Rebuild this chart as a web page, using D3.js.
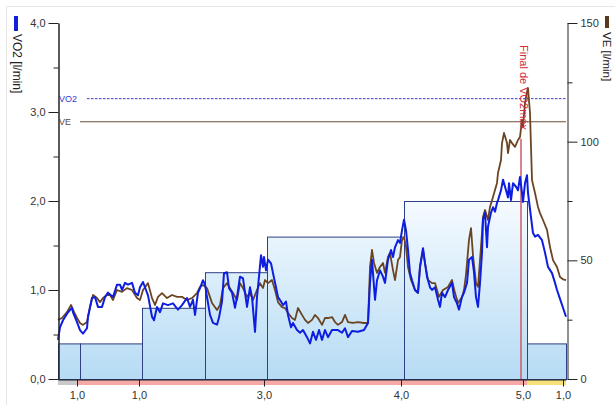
<!DOCTYPE html>
<html>
<head>
<meta charset="utf-8">
<script src="https://cdn.jsdelivr.net/npm/d3@7"></script>
<style>
  html, body { margin: 0; padding: 0; background: #fff; }
  svg { display: block; font-family: "Liberation Sans", Arial, sans-serif; }
</style>
</head>
<body>
<svg id="chart" width="615" height="405"></svg>
<script>
// Time axis (seconds from start of test)
const vo2Time = [0,2,5,10,14,15,19,22,25,29,30,34,37,40,44,47,50,55,59,62,64,67,70,74,77,80,82,85,88,90,94,96,99,102,105,110,115,120,124,129,132,135,137,140,142,145,147,149,152,155,159,161,164,166,169,171,174,177,179,182,185,187,189,192,194,197,199,201,203,205,206,208,210,213,215,218,220,223,225,228,230,233,235,239,242,245,249,252,255,258,261,264,267,270,274,277,280,284,287,290,294,300,306,310,312,314,315,317,319,322,325,327,330,333,335,337,340,342,344,346,348,350,352,354,357,360,362,365,367,369,372,374,377,380,382,384,387,390,394,396,399,401,404,406,409,411,414,416,418,420,422,424,425,427,429,430,433,435,437,439,440,443,445,448,450,451,453,455,458,460,462,464,465,467,469,470,473,475,477,480,484,487,490,494,497,499,502,505,508];
// VO2 [l/min]
const vo2 = [0.44,0.58,0.66,0.75,0.80,0.75,0.64,0.55,0.51,0.57,0.70,0.91,0.92,0.81,0.81,0.92,0.97,0.92,1.06,1.06,1.00,1.08,1.06,1.08,0.97,0.94,1.03,1.09,1.00,0.94,0.70,0.66,0.81,0.75,0.85,0.83,0.85,0.78,0.83,0.91,0.81,0.89,0.72,0.97,1.02,1.11,1.06,0.92,0.72,0.63,0.61,0.69,0.87,1.19,1.20,1.02,0.97,0.80,0.92,1.15,1.13,0.97,0.81,1.03,0.92,0.53,0.92,1.15,1.39,1.26,1.37,1.22,1.34,1.30,1.19,1.03,0.92,0.87,0.83,0.87,0.72,0.58,0.63,0.55,0.52,0.55,0.47,0.40,0.53,0.44,0.55,0.44,0.55,0.47,0.55,0.55,0.55,0.52,0.57,0.47,0.54,0.53,0.55,0.63,1.08,1.34,1.19,0.89,1.11,1.22,1.15,1.08,1.34,1.45,1.37,1.48,1.56,1.53,1.67,1.79,1.67,1.45,1.19,1.11,1.00,0.97,1.26,1.47,1.30,1.15,1.03,1.00,1.03,0.89,0.81,0.97,0.92,1.00,1.08,0.92,0.85,0.78,0.92,0.97,1.08,1.34,1.37,1.20,0.92,0.81,1.08,1.42,1.79,1.87,1.48,1.71,1.87,1.93,1.88,1.98,2.01,2.12,2.24,2.12,2.04,2.20,2.01,2.20,2.16,2.12,2.27,2.09,1.99,2.20,2.29,2.09,1.82,1.64,1.60,1.62,1.56,1.42,1.26,1.19,1.08,1.00,0.90,0.80,0.70];

const veTime = [0,4,9,13,15,19,22,25,29,32,35,39,42,45,49,52,55,59,64,69,74,79,82,85,90,94,97,100,104,109,114,119,124,129,134,139,142,145,149,154,159,162,165,169,172,175,179,182,185,189,192,195,199,202,205,207,210,214,217,220,224,227,230,234,237,240,244,247,250,254,257,260,264,267,270,274,277,280,284,287,290,295,300,306,310,312,314,316,319,322,325,327,330,332,335,337,340,342,344,346,348,350,353,357,360,362,365,367,370,374,377,381,385,390,394,397,400,404,406,408,411,413,415,418,420,422,424,425,427,430,432,435,439,440,443,444,446,449,450,452,454,457,460,462,464,465,467,469,470,472,473,474,477,480,482,485,489,492,495,499,502,505,508];
// VE [l/min]
const ve = [24.9,25.7,28.2,31.2,29.1,25.7,23.6,22.8,24.0,30.3,35.4,34.1,32.4,34.1,35.4,35.4,33.3,37.5,36.7,38.3,37.5,34.1,33.3,37.5,40.4,34.1,31.2,34.6,36.2,34.1,35.4,34.6,34.6,33.3,34.1,36.2,38.8,39.6,38.3,32.0,29.1,31.2,38.3,40.4,38.3,36.2,33.3,40.4,38.3,34.6,36.2,33.3,37.5,40.4,38.3,41.7,40.4,41.7,37.5,32.4,30.3,29.9,27.8,25.7,24.9,29.9,27.0,24.9,23.6,24.9,27.0,25.7,22.8,25.7,25.7,26.1,24.0,22.8,24.0,27.0,24.0,23.6,24.0,23.6,23.6,47.2,54.4,48.9,44.7,47.2,48.9,44.7,51.4,53.1,45.9,41.7,50.1,51.4,58.6,59.8,55.6,47.2,41.7,37.5,36.2,47.2,54.4,48.9,41.7,40.4,40.4,34.6,37.5,38.8,41.7,36.2,32.0,34.6,37.5,44.0,58.6,63.6,52.0,40.4,38.8,50.1,61.5,68.3,71.2,67.0,72.5,76.7,82.6,86.8,92.3,99.4,103.7,99.4,95.2,100.7,99.4,97.8,100.7,102.0,109.1,106.2,116.3,120.9,122.6,112.1,97.8,83.8,78.4,72.5,69.9,67.0,62.8,55.6,50.1,47.2,43.0,42.0,41.7];

// Load stages: start/end (s) and target VO2 level
const stageStart = [0,22,84,147,209,346,469];
const stageEnd   = [22,84,147,209,346,469,508];
const stageLevel = [0.4,0.4,0.8,1.2,1.6,2.0,0.4];

// Phase band under the time axis
const phaseStart = [0,19,469];
const phaseEnd   = [19,469,508];
const phaseColor = ["#c9c9c9","#f4a9a6","#f7e27a"];

// Time-axis ticks and their labels
const xTicks = [19,81,206,343,465,505];
const xTickLabels = ["1,0","1,0","3,0","4,0","5,0","1,0"];

// Reference levels
const vo2Ref = 3.15;
const veRef = 108.4;
const vo2maxEnd = 463;
const vo2maxMarkerTop = 2.7;

const svg = d3.select("#chart");

const x = d3.scaleLinear().domain([0,508]).range([58,566]);
const yL = d3.scaleLinear().domain([0,4]).range([379,23]);
const yR = d3.scaleLinear().domain([0,150]).range([379,23]);

// outer panel edges
svg.append("line").attr("x1",6.5).attr("x2",615).attr("y1",6.5).attr("y2",6.5).attr("stroke","#e6e6e6");
svg.append("line").attr("x1",6.5).attr("x2",6.5).attr("y1",6.5).attr("y2",405).attr("stroke","#e6e6e6");

// gradient for stage blocks
const defs = svg.append("defs");
const grad = defs.append("linearGradient").attr("id","stageFill")
  .attr("gradientUnits","userSpaceOnUse")
  .attr("x1",0).attr("x2",0).attr("y1",yL(2)).attr("y2",yL(0));
grad.append("stop").attr("offset","0%").attr("stop-color","#f6fbff");
grad.append("stop").attr("offset","100%").attr("stop-color","#b6dbf4");

// stage blocks
const stages = stageStart.map((s,i)=>({s, e: stageEnd[i], v: stageLevel[i]}));
svg.append("g").selectAll("rect").data(stages).join("rect")
  .attr("x", d => x(d.s) + 0.5)
  .attr("y", d => yL(d.v) + 0.5)
  .attr("width", d => x(d.e) - x(d.s))
  .attr("height", d => yL(0) - yL(d.v))
  .attr("fill","url(#stageFill)")
  .attr("stroke","#2f4084")
  .attr("stroke-width",1);

// reference lines
svg.append("line").attr("x1",x(29)).attr("x2",x(508)).attr("y1",yL(vo2Ref)).attr("y2",yL(vo2Ref))
  .attr("stroke","#3a3acc").attr("stroke-width",1).attr("stroke-dasharray","2.5,1.5");
svg.append("text").attr("x",59).attr("y",yL(vo2Ref)+3.5).attr("font-size",9).attr("fill","#3a3acc").text("VO2");
svg.append("line").attr("x1",x(22)).attr("x2",x(508)).attr("y1",yR(veRef)).attr("y2",yR(veRef))
  .attr("stroke","#6e5134").attr("stroke-width",1.2);
svg.append("text").attr("x",59).attr("y",yR(veRef)+3.5).attr("font-size",9).attr("fill","#5e4a36").text("VE");

// VO2max marker
svg.append("line").attr("x1",x(vo2maxEnd)).attr("x2",x(vo2maxEnd))
  .attr("y1",yL(vo2maxMarkerTop)).attr("y2",yL(0))
  .attr("stroke","#cc5a66").attr("stroke-width",1.5);

// data lines
const veLine = d3.line().x((d,i)=>x(veTime[i])).y(d=>yR(d));
svg.append("path").datum(ve).attr("d",veLine).attr("fill","none")
  .attr("stroke","#6b4522").attr("stroke-width",1.8).attr("stroke-linejoin","round");
const vo2Line = d3.line().x((d,i)=>x(vo2Time[i])).y(d=>yL(d));
svg.append("path").datum(vo2).attr("d",vo2Line).attr("fill","none")
  .attr("stroke","#0d1ee0").attr("stroke-width",2).attr("stroke-linejoin","round");

svg.append("text")
  .attr("transform",`translate(${x(vo2maxEnd)+2},45) rotate(90)`)
  .attr("font-size",11).attr("fill","#d42a3a").attr("dominant-baseline","middle")
  .text("Final de VO2máx");

// phase band
const phases = phaseStart.map((s,i)=>({s, e: phaseEnd[i], c: phaseColor[i]}));
svg.append("g").selectAll("rect").data(phases).join("rect")
  .attr("x", d => x(d.s)).attr("y",380).attr("width", d => x(d.e)-x(d.s)).attr("height",5)
  .attr("fill", d => d.c);

const fmt = d => d.toFixed(1).replace(".",",");

// left axis
const gL = svg.append("g").attr("transform","translate(58.5,0)")
  .call(d3.axisLeft(yL).tickValues([0,1,2,3,4]).tickFormat(fmt).tickSize(10).tickSizeOuter(0));
svg.append("g").attr("transform","translate(58.5,0)")
  .call(d3.axisLeft(yL).tickValues([0.5,1.5,2.5,3.5]).tickFormat("").tickSize(5).tickSizeOuter(0))
  .select(".domain").remove();

// right axis
const gR = svg.append("g").attr("transform","translate(567.5,0)")
  .call(d3.axisRight(yR).tickValues([0,50,100,150]).tickFormat(d3.format("d")).tickSize(10).tickSizeOuter(0));
svg.append("g").attr("transform","translate(567.5,0)")
  .call(d3.axisRight(yR).tickValues([25,75,125]).tickFormat("").tickSize(5).tickSizeOuter(0))
  .select(".domain").remove();

// bottom axis
const gB = svg.append("g").attr("transform","translate(0,379.5)")
  .call(d3.axisBottom(x).tickValues(xTicks).tickFormat((d,i)=>xTickLabels[i]).tickSize(7).tickSizeOuter(0));

svg.selectAll(".tick text").attr("font-size",11).attr("fill","#333")
  .attr("font-family","'Liberation Sans', Arial, sans-serif");
svg.selectAll(".domain, .tick line").attr("stroke","#222");
gL.select(".domain").attr("stroke-width",1.5);
gL.selectAll(".tick text").attr("x",-13);
gR.selectAll(".tick text").attr("x",13);
gB.selectAll(".tick text").attr("y",12);

// axis titles with series colour keys
svg.append("rect").attr("x",14).attr("y",16).attr("width",4).attr("height",15).attr("fill","#1020d8");
svg.append("text").attr("transform","translate(16,34) rotate(90)")
  .attr("font-size",12).attr("fill","#222").attr("dominant-baseline","middle").text("VO2 [l/min]");
svg.append("rect").attr("x",605).attr("y",16).attr("width",4).attr("height",12).attr("fill","#5a3a1c");
svg.append("text").attr("transform","translate(606,32) rotate(90)")
  .attr("font-size",11.5).attr("fill","#222").attr("dominant-baseline","middle").text("VE [l/min]");
</script>
</body>
</html>
